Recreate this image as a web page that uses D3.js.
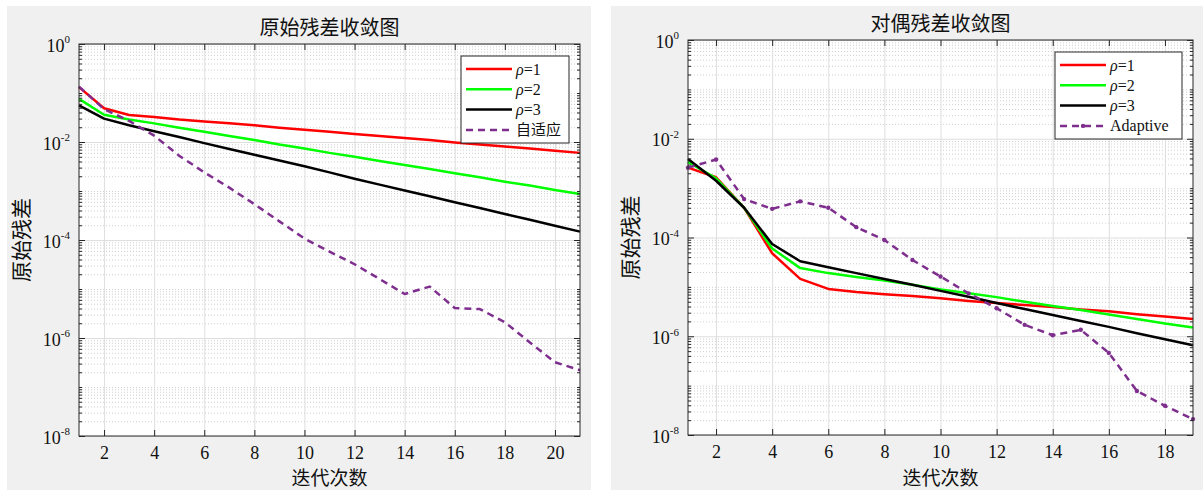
<!DOCTYPE html>
<html>
<head>
<meta charset="utf-8">
<script src="https://cdn.jsdelivr.net/npm/d3@7/dist/d3.min.js"></script>
<style>
  body { margin: 0; background: #fff; }
</style>
</head>
<body>
<svg id="chart" width="1203" height="492"></svg>
<script>
// iteration numbers
var iterPrimal = [1, 2, 3, 4, 5, 6, 7, 8, 9, 10, 11, 12, 13, 14, 15, 16, 17, 18, 19, 20, 21];
var iterDual = [1, 2, 3, 4, 5, 6, 7, 8, 9, 10, 11, 12, 13, 14, 15, 16, 17, 18, 19];

// primal residual (left chart)
var primalRho1 = [0.132, 0.049, 0.0355, 0.0324, 0.0288, 0.0263, 0.024, 0.0219, 0.0195, 0.0178, 0.0162,
  0.0145, 0.0132, 0.012, 0.011, 0.0098, 0.0089, 0.0081, 0.0074, 0.0066, 0.006];
var primalRho2 = [0.076, 0.036, 0.0288, 0.024, 0.0195, 0.0162, 0.0132, 0.011, 0.0089, 0.0074, 0.006,
  0.005, 0.0041, 0.0034, 0.0028, 0.0023, 0.0019, 0.00155, 0.00129, 0.00105, 0.00087];
var primalRho3 = [0.056, 0.03, 0.0219, 0.0166, 0.0126, 0.0095, 0.0072, 0.0055, 0.0042, 0.0032, 0.0024,
  0.00178, 0.00135, 0.00102, 0.00078, 0.00059, 0.00045, 0.00034, 0.00026, 0.000195, 0.000148];
var primalAdaptive = [0.135, 0.0468, 0.0269, 0.0135, 0.00525, 0.0024, 0.00117, 5.4e-4, 2.4e-4, 1.07e-4, 5.8e-5,
  3.2e-5, 1.6e-5, 7.9e-6, 1.12e-5, 4.1e-6, 3.9e-6, 2.1e-6, 8.1e-7, 3.2e-7, 2.2e-7];

// dual residual (right chart)
var dualRho1 = [2.6e-3, 1.66e-3, 4.0e-4, 4.8e-5, 1.45e-5, 9.1e-6, 7.9e-6, 7.1e-6, 6.5e-6, 5.9e-6,
  5.2e-6, 4.7e-6, 4.3e-6, 3.9e-6, 3.5e-6, 3.2e-6, 2.8e-6, 2.5e-6, 2.24e-6];
var dualRho2 = [3.4e-3, 1.58e-3, 4.0e-4, 6.0e-5, 2.4e-5, 1.9e-5, 1.58e-5, 1.35e-5, 1.1e-5, 8.9e-6,
  7.4e-6, 6.2e-6, 5.0e-6, 4.1e-6, 3.4e-6, 2.75e-6, 2.24e-6, 1.82e-6, 1.51e-6];
var dualRho3 = [3.9e-3, 1.41e-3, 4.0e-4, 7.4e-5, 3.3e-5, 2.5e-5, 1.9e-5, 1.45e-5, 1.1e-5, 8.3e-6,
  6.3e-6, 4.7e-6, 3.55e-6, 2.7e-6, 2.04e-6, 1.55e-6, 1.15e-6, 8.7e-7, 6.6e-7];
var dualAdaptive = [2.6e-3, 3.8e-3, 6.0e-4, 3.8e-4, 5.4e-4, 4.0e-4, 1.62e-4, 8.9e-5, 3.5e-5, 1.62e-5,
  7.4e-6, 3.7e-6, 1.7e-6, 1.05e-6, 1.35e-6, 4.6e-7, 7.8e-8, 3.9e-8, 2.1e-8];

// ticks and labels
var yTickExps = [0, -2, -4, -6, -8];
var xTicksPrimal = [2, 4, 6, 8, 10, 12, 14, 16, 18, 20];
var xTicksDual = [2, 4, 6, 8, 10, 12, 14, 16, 18];
var legendPrimal = ["=1", "=2", "=3", "自适应"];
var legendDual = ["=1", "=2", "=3", "Adaptive"];
var seriesColors = ["#ff0000", "#00ff00", "#000000", "#7e2f8e"];

var svg = d3.select("#chart");
var axisColor = "#262626";
var serif = "'Liberation Serif', 'Times New Roman', serif";
var cjk = "'Noto Sans CJK SC', sans-serif";

function drawPanel(p) {
  var x = d3.scaleLinear().domain(p.xDomain).range([p.l, p.r]);
  var y = d3.scaleLog().domain([1e-8, 1]).range([p.b, p.t]);

  // grey figure background
  svg.append("rect")
    .attr("x", p.bg[0]).attr("y", p.bg[1]).attr("width", p.bg[2]).attr("height", p.bg[3])
    .attr("fill", "#f0f0f0");
  svg.append("rect")
    .attr("x", p.l).attr("y", p.t).attr("width", p.r - p.l).attr("height", p.b - p.t)
    .attr("fill", "#fff");

  var majorY = yTickExps.map(function (e) { return Math.pow(10, e); });
  var minorY = [];
  for (var k = -8; k < 0; k++) {
    for (var m = 1; m <= 9; m++) {
      if (m === 1 && k % 2 === 0) continue;
      minorY.push(m * Math.pow(10, k));
    }
  }

  // minor grid (dotted)
  svg.append("g")
    .attr("transform", "translate(" + p.l + ",0)")
    .call(d3.axisLeft(y).tickValues(minorY).tickSize(-(p.r - p.l)).tickFormat(""))
    .call(function (g) { g.select(".domain").remove(); })
    .selectAll("line")
      .attr("stroke", "#c4c4c4").attr("stroke-dasharray", "1,2").attr("stroke-width", 0.8);

  // major grid
  svg.append("g")
    .attr("transform", "translate(" + p.l + ",0)")
    .call(d3.axisLeft(y).tickValues(majorY).tickSize(-(p.r - p.l)).tickFormat(""))
    .call(function (g) { g.select(".domain").remove(); })
    .selectAll("line").attr("stroke", "#dedede");
  svg.append("g")
    .attr("transform", "translate(0," + p.b + ")")
    .call(d3.axisBottom(x).tickValues(p.xTicks).tickSize(-(p.b - p.t)).tickFormat(""))
    .call(function (g) { g.select(".domain").remove(); })
    .selectAll("line").attr("stroke", "#dedede");

  // series lines
  var line = d3.line()
    .x(function (d) { return x(d[0]); })
    .y(function (d) { return y(d[1]); });
  p.series.forEach(function (s, i) {
    var pts = p.iters.map(function (it, j) { return [it, s[j]]; });
    var path = svg.append("path")
      .datum(pts)
      .attr("d", line)
      .attr("fill", "none")
      .attr("stroke", seriesColors[i])
      .attr("stroke-width", 2.5)
      .attr("stroke-linejoin", "round");
    if (i === 3) {
      path.attr("stroke-dasharray", "7,5");
      if (p.markers) {
        svg.append("g").selectAll("circle")
          .data(pts)
          .enter()
          .append("circle")
            .attr("cx", function (d) { return x(d[0]); })
            .attr("cy", function (d) { return y(d[1]); })
            .attr("r", 2.2)
            .attr("fill", seriesColors[3]);
      }
    }
  });

  // box
  svg.append("rect")
    .attr("x", p.l).attr("y", p.t).attr("width", p.r - p.l).attr("height", p.b - p.t)
    .attr("fill", "none").attr("stroke", axisColor).attr("stroke-width", 1);

  function tickStyle(g) {
    g.select(".domain").remove();
    g.attr("font-family", serif).attr("font-size", 18);
    g.selectAll("line").attr("stroke", axisColor);
  }

  // y axes (left with labels, right mirrored)
  var yLeft = svg.append("g")
    .attr("transform", "translate(" + p.l + ",0)")
    .call(d3.axisLeft(y).tickValues(majorY).tickSize(-6).tickPadding(9).tickFormat(""))
    .call(tickStyle);
  yLeft.selectAll(".tick text").each(function (d) {
    var t = d3.select(this);
    var e = Math.round(Math.log10(d));
    t.attr("dy", "0.4em").attr("fill", "#111")
      .attr("font-family", serif).attr("font-size", 18);
    t.append("tspan").text("10");
    t.append("tspan").attr("font-size", 11).attr("dy", "-0.75em").text(e);
  });
  svg.append("g")
    .attr("transform", "translate(" + p.l + ",0)")
    .call(d3.axisLeft(y).tickValues(minorY).tickSize(-3).tickFormat(""))
    .call(tickStyle);
  svg.append("g")
    .attr("transform", "translate(" + p.r + ",0)")
    .call(d3.axisRight(y).tickValues(majorY).tickSize(-6).tickFormat(""))
    .call(tickStyle);
  svg.append("g")
    .attr("transform", "translate(" + p.r + ",0)")
    .call(d3.axisRight(y).tickValues(minorY).tickSize(-3).tickFormat(""))
    .call(tickStyle);

  // x axes
  svg.append("g")
    .attr("transform", "translate(0," + p.b + ")")
    .call(d3.axisBottom(x).tickValues(p.xTicks).tickSize(-6).tickPadding(10))
    .call(tickStyle)
    .selectAll(".tick text")
      .attr("fill", "#111")
      .attr("font-family", serif).attr("font-size", 18);
  svg.append("g")
    .attr("transform", "translate(0," + p.t + ")")
    .call(d3.axisTop(x).tickValues(p.xTicks).tickSize(-6).tickFormat(""))
    .call(tickStyle);

  var cx = (p.l + p.r) / 2;
  // title and axis labels
  svg.append("text")
    .attr("font-family", cjk).attr("fill", "#111")
    .attr("x", cx).attr("y", p.t - 9)
    .attr("text-anchor", "middle").attr("font-size", 20)
    .text(p.title);
  svg.append("text")
    .attr("font-family", cjk).attr("fill", "#111")
    .attr("x", cx).attr("y", 485)
    .attr("text-anchor", "middle").attr("font-size", 19)
    .text("迭代次数");
  svg.append("text")
    .attr("font-family", cjk).attr("fill", "#111")
    .attr("transform", "translate(" + (p.l - 50) + "," + ((p.t + p.b) / 2) + ") rotate(-90)")
    .attr("text-anchor", "middle").attr("font-size", 21)
    .text("原始残差");

  // legend
  var lg = svg.append("g").attr("transform", "translate(" + p.legend[0] + "," + p.legend[1] + ")");
  lg.append("rect")
    .attr("width", p.legend[2]).attr("height", p.legend[3])
    .attr("fill", "#fff").attr("stroke", axisColor).attr("stroke-width", 1);
  p.legendText.forEach(function (txt, i) {
    var ly = 13 + i * 20.3;
    var seg = lg.append("line")
      .attr("x1", 5).attr("x2", 51).attr("y1", ly).attr("y2", ly)
      .attr("stroke", seriesColors[i]).attr("stroke-width", 2.5);
    if (i === 3) {
      seg.attr("stroke-dasharray", "7,5");
      if (p.markers) {
        lg.append("circle").attr("cx", 28).attr("cy", ly).attr("r", 2.2).attr("fill", seriesColors[3]);
      }
    }
    var t = lg.append("text").attr("x", 55).attr("y", ly + 5.5)
      .attr("font-size", 16).attr("fill", "#111").attr("font-family", serif);
    if (i < 3) {
      t.append("tspan").attr("font-style", "italic").text("ρ");
      t.append("tspan").text(txt);
    } else {
      if (txt !== "Adaptive") t.attr("font-family", cjk).attr("font-size", 15);
      t.text(txt);
    }
  });
}

drawPanel({
  bg: [7, 6, 584, 484],
  l: 79, t: 44, r: 580, b: 436,
  xDomain: [1, 21],
  xTicks: xTicksPrimal,
  iters: iterPrimal,
  series: [primalRho1, primalRho2, primalRho3, primalAdaptive],
  markers: false,
  title: "原始残差收敛图",
  legend: [461, 56, 108, 87],
  legendText: legendPrimal
});

drawPanel({
  bg: [611, 6, 592, 484],
  l: 688, t: 40, r: 1193, b: 435,
  xDomain: [1, 19],
  xTicks: xTicksDual,
  iters: iterDual,
  series: [dualRho1, dualRho2, dualRho3, dualAdaptive],
  markers: true,
  title: "对偶残差收敛图",
  legend: [1055, 52, 127, 87],
  legendText: legendDual
});
</script>
</body>
</html>
